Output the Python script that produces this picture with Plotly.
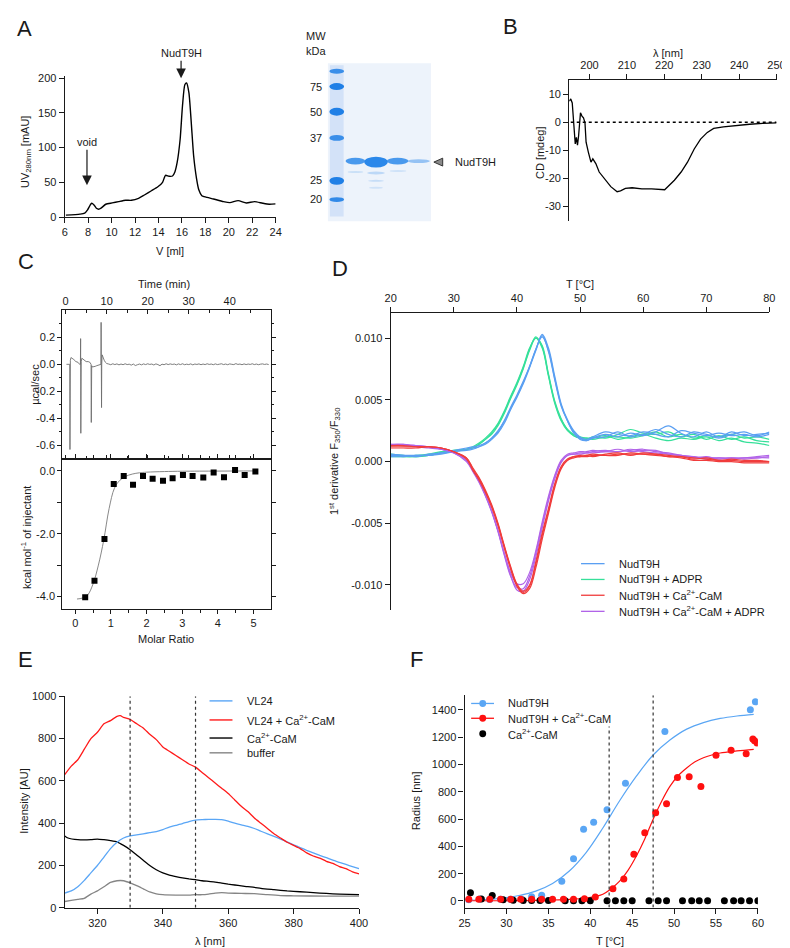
import plotly.graph_objects as go

W, H = 790, 948
FONT = "Liberation Sans, Arial, sans-serif"
INK = "#1a1a1a"

# ---------------- data ----------------
# A: size exclusion chromatogram
sec_v = [6.1, 7.3, 7.7, 7.95, 8.15, 8.3, 8.5, 8.7, 8.9, 9.1, 9.5, 10.05, 10.6, 11.2, 11.7, 12.3, 12.8,
         13.4, 13.95, 14.35, 14.6, 14.9, 15.2, 15.4, 15.6, 15.85, 16.05, 16.25, 16.4, 16.6, 16.8, 17.0,
         17.25, 17.45, 17.7, 18.15, 18.7, 19.55, 20.1, 20.8, 21.5, 22.2, 22.9, 23.45, 24.0]
sec_uv = [2.8, 4.3, 5.7, 10.4, 16.6, 19.9, 17.5, 12.8, 11.4, 12.8, 18.5, 20.4, 22.3, 24.2, 24.2, 27.0, 31.8,
          37.9, 43.6, 50.0, 60.2, 58.8, 59.2, 65.0, 79.0, 112.0, 160.0, 190.5, 193.0, 178.7, 136.0, 88.6,
          55.5, 38.9, 30.8, 28.4, 26.1, 22.3, 20.9, 23.7, 20.4, 22.3, 19.9, 18.5, 19.0]
sec_ticks = [6, 8, 10, 12, 14, 16, 18, 20, 22, 24]
uv_ticks = [0, 50, 100, 150, 200]
gel_mw = ["75", "50", "37", "25", "20"]

# B: CD spectrum
cd_wl = [194.6, 195.0, 195.4, 195.9, 196.2, 196.5, 196.8, 197.1, 197.6, 198.0, 198.4, 198.8, 199.1, 199.7,
         200.4, 200.9, 201.7, 202.6, 203.9, 205.7, 207.4, 208.3, 209.6, 211.4, 214.0, 216.6, 220.1, 221.0,
         222.7, 224.5, 226.2, 228.0, 229.7, 231.5, 233.2, 235.8, 239.3, 242.8, 246.3, 250.0]
cd_mdeg = [7.5, 8.3, 6.9, -4.8, -7.7, -5.4, -8.1, -4.8, 3.4, 2.2, 1.6, -0.1, -7.1, -10.6,
           -14.2, -13.0, -14.7, -17.7, -20.0, -22.9, -24.7, -24.4, -23.5, -23.3, -23.7, -23.7, -24.0, -22.9,
           -20.6, -17.7, -14.2, -9.5, -6.0, -3.6, -2.2, -1.6, -1.05, -0.7, -0.35, -0.2]
cd_zero_x = [195, 250]
cd_zero_y = [0, 0]
cd_xticks = [200, 210, 220, 230, 240, 250]
cd_yticks = [-30, -20, -10, 0, 10]

# C: ITC raw heat
itc_t = [0.2, 0.8, 1.0, 1.05, 1.1, 1.15, 1.3, 1.6, 2.0, 2.5, 3.0, 3.4, 3.6, 3.65, 3.7, 3.75, 3.8, 3.95,
         4.2, 4.6, 5.0, 5.5, 5.9, 6.2, 6.25, 6.3, 6.35, 6.5, 6.8, 7.2, 7.6, 8.0, 8.4, 8.6, 8.65, 8.7, 8.75,
         8.8, 8.9, 9.1, 9.4, 9.7,
         10.0, 10.5, 11.0, 11.5, 12.0, 12.5, 13.0, 13.5, 14.0, 14.5, 15.0, 15.5, 16.0, 16.5, 17.0, 17.5,
         18.0, 18.5, 19.0, 19.5, 20.0, 20.5, 21.0, 21.5, 22.0, 22.5, 23.0, 23.5, 24.0, 24.5, 25.0, 25.5,
         26.0, 26.5, 27.0, 27.5, 28.0, 28.5, 29.0, 29.5, 30.0, 30.5, 31.0, 31.5, 32.0, 32.5, 33.0, 33.5,
         34.0, 34.5, 35.0, 35.5, 36.0, 36.5, 37.0, 37.5, 38.0, 38.5, 39.0, 39.5, 40.0, 40.5, 41.0, 41.5,
         42.0, 42.5, 43.0, 43.5, 44.0, 44.5, 45.0, 45.5, 46.0, 46.5, 47.0, 47.5, 48.0, 48.5, 49.0, 49.5]
itc_q = [0.0, 0.0, 0.0, -0.63, 0.0, 0.03, 0.05, 0.045, 0.035, 0.02, 0.015, 0.0, 0.0, 0.19, -0.51, 0.0, 0.02,
         0.045, 0.04, 0.03, 0.02, 0.02, 0.015, 0.0, -0.43, 0.0, -0.01, -0.02, -0.02, -0.015, -0.01, -0.005,
         0.0, 0.0, 0.31, 0.0, -0.32, 0.0, 0.07, 0.05, 0.03, 0.015,
         0.006, 0.002, -0.003, 0.004, -0.002, 0.003, -0.004, 0.002, -0.003, 0.004, -0.002, 0.001, -0.006, 0.002,
         -0.009, -0.003, 0.002, -0.004, 0.003, -0.002, 0.004, -0.001, 0.002, -0.005, 0.003, -0.002, -0.010, 0.001,
         -0.003, 0.004, -0.002, 0.003, -0.001, 0.002, -0.004, 0.003, -0.002, 0.004, -0.003, 0.001, -0.002, 0.003,
         -0.004, 0.002, -0.001, 0.003, -0.003, 0.002, -0.002, 0.004, -0.001, 0.002, -0.003, 0.003, -0.002, 0.001,
         0.004, -0.002, 0.002, -0.003, 0.003, 0.0, -0.002, 0.005, -0.001, 0.002, -0.003, 0.003, -0.002, 0.002,
         -0.001, 0.004, -0.002, 0.002, -0.003, 0.001, 0.003, -0.001, 0.002, -0.002, 0.001, 0.002]
# C: integrated heats
itc_ratio = [0.28, 0.54, 0.82, 1.08, 1.36, 1.62, 1.90, 2.17, 2.46, 2.73, 3.02, 3.29, 3.59, 3.88, 4.17,
             4.48, 4.75, 5.05]
itc_kcal = [-4.02, -3.50, -2.17, -0.42, -0.16, -0.44, -0.16, -0.25, -0.31, -0.23, -0.13, -0.16, -0.21,
            -0.05, -0.20, 0.03, -0.13, -0.02]
itc_fit_x = [0.05, 0.2, 0.35, 0.5, 0.65, 0.8, 0.95, 1.1, 1.25, 1.4, 1.6, 1.8, 2.0, 2.5, 3.0, 4.0, 5.05]
itc_fit_y = [-4.08, -4.05, -3.95, -3.6, -3.0, -2.2, -1.2, -0.55, -0.3, -0.18, -0.1, -0.06, -0.04, -0.02,
             -0.01, -0.005, 0.0]

# D: nanoDSF first derivative (values in units of 1e-4)
dsf_T = [20, 22, 24, 26, 28, 30, 32, 33, 34, 35, 36, 37, 38, 39, 40, 41, 42, 43, 44, 45, 46, 47, 48, 49, 50,
         51, 52, 54, 56, 58, 60, 62, 64, 66, 68, 70, 72, 74, 76, 78, 80]
dsf_nudt9h = [
    [5, 5, 5, 5, 6, 8, 9, 10, 12, 15, 19, 24, 33, 44, 54, 65, 77, 91, 102, 89, 66, 45, 33, 24, 19, 17, 19, 22,
     20, 23, 21, 24, 29, 23, 20, 24, 20, 24, 21, 22, 23],
    [6, 5, 4, 6, 7, 8, 10, 11, 12, 14, 18, 23, 31, 42, 52, 63, 76, 90, 103, 92, 69, 47, 34, 25, 20, 18, 20, 24,
     22, 21, 24, 22, 20, 25, 23, 21, 23, 21, 22, 20, 22],
    [4, 4, 5, 5, 7, 9, 11, 12, 13, 15, 19, 25, 33, 43, 53, 64, 77, 91, 101, 90, 67, 46, 33, 23, 18, 17, 19, 20,
     24, 20, 22, 26, 22, 20, 24, 22, 19, 22, 24, 21, 24]]
dsf_adpr = [
    [5, 4, 4, 5, 7, 9, 10, 11, 14, 18, 23, 30, 40, 52, 63, 76, 91, 101, 93, 70, 48, 34, 26, 21, 19, 19, 19, 21,
     18, 20, 22, 19, 17, 19, 18, 20, 17, 19, 16, 15, 13],
    [6, 5, 4, 5, 7, 8, 10, 12, 15, 19, 24, 31, 41, 53, 64, 77, 92, 100, 92, 69, 47, 33, 25, 21, 19, 18, 20, 19,
     22, 26, 23, 22, 24, 20, 22, 18, 21, 18, 20, 17, 16],
    [4, 4, 5, 6, 8, 9, 10, 11, 14, 18, 22, 29, 39, 51, 62, 75, 90, 100, 94, 71, 49, 35, 26, 22, 20, 19, 18, 20,
     20, 19, 21, 24, 20, 22, 19, 21, 20, 22, 19, 20, 18]]
dsf_cam = [
    [12, 12, 12, 12, 11, 8, 3, -6, -14, -24, -36, -51, -69, -86, -100, -106, -101, -83, -60, -40, -19, -5, 1, 4,
     4, 4, 5, 5, 6, 6, 6, 6, 5, 4, 3, 2, 1, 1, 0, 0, 0],
    [11, 11, 11, 12, 11, 8, 2, -7, -15, -25, -37, -52, -70, -87, -101, -107, -103, -86, -63, -42, -21, -6, 1, 3,
     4, 5, 6, 5, 5, 7, 6, 5, 4, 3, 1, 1, 0, 0, -1, -1, -1],
    [13, 13, 12, 12, 11, 8, 3, -5, -13, -23, -35, -50, -68, -85, -99, -105, -100, -81, -58, -38, -18, -4, 2, 4,
     5, 5, 4, 6, 7, 5, 7, 6, 4, 4, 2, 3, 1, 2, 1, 1, 0]]
dsf_cam_adpr = [
    [14, 13, 13, 12, 10, 7, 0, -8, -17, -28, -41, -57, -76, -93, -102, -103, -93, -74, -51, -30, -12, 0, 5, 6,
     7, 7, 8, 9, 8, 9, 10, 8, 7, 5, 4, 3, 3, 3, 3, 4, 5],
    [13, 14, 13, 12, 10, 7, 1, -7, -16, -27, -40, -56, -75, -92, -104, -105, -96, -77, -54, -32, -14, -1, 5, 6,
     6, 7, 7, 8, 10, 8, 9, 9, 6, 5, 4, 2, 3, 2, 3, 3, 4],
    [14, 14, 12, 11, 10, 8, 1, -7, -16, -27, -40, -56, -74, -90, -99, -99, -90, -72, -49, -28, -11, 1, 6, 7,
     8, 8, 9, 8, 8, 10, 8, 7, 6, 5, 3, 4, 2, 3, 2, 3, 3]]
dsf_unit = 1e-4
dsf_xticks = [20, 30, 40, 50, 60, 70, 80]
dsf_yticks = [-0.010, -0.005, 0.0, 0.005, 0.010]
dsf_ylabels = ["-0.010", "-0.005", "0.000", "0.005", "0.010"]

# E: tryptophan fluorescence
fl_wl_red = [310, 312, 314, 316, 318, 320, 322, 324, 326, 327, 328, 330, 332, 334, 336, 338, 340, 342, 344, 346,
             348, 350, 352, 354, 356, 358, 360, 362, 364, 366, 368, 370, 372, 374, 376, 378, 380, 382, 384, 386,
             388, 390, 392, 394, 396, 398, 400]
fl_vl24_cam = [630, 670, 700, 750, 800, 830, 870, 885, 905, 908, 900, 890, 870, 850, 820, 795, 760, 740, 720, 700,
               680, 665, 640, 615, 590, 565, 540, 510, 480, 455, 425, 400, 375, 350, 330, 310, 295, 280, 260, 245,
               235, 220, 210, 195, 185, 170, 160]
fl_wl_blue = [310, 312, 314, 316, 318, 320, 322, 324, 326, 328, 330, 332, 334, 336, 338, 340, 342, 344, 346, 348,
              350, 352, 354, 356, 358, 360, 362, 364, 366, 368, 370, 372, 374, 376, 378, 380, 382, 384, 386, 388,
              390, 392, 394, 396, 398, 400]
fl_vl24 = [70, 80, 100, 130, 165, 200, 240, 280, 310, 330, 340, 345, 350, 355, 360, 370, 382, 390, 398, 408,
           415, 417, 418, 418, 417, 410, 400, 392, 385, 375, 362, 350, 338, 325, 312, 298, 285, 272, 260, 248,
           237, 225, 215, 205, 195, 185]
fl_wl_cam = [310, 311, 314, 318, 320, 322, 324, 326, 328, 330, 332, 334, 336, 338, 340, 342, 344, 346, 348, 350,
             352, 354, 356, 358, 360, 362, 364, 366, 368, 370, 374, 378, 382, 386, 390, 394, 400]
fl_cam = [340, 330, 322, 322, 325, 322, 318, 312, 295, 275, 250, 225, 200, 180, 165, 155, 148, 142, 137, 133,
          128, 125, 122, 117, 112, 108, 104, 100, 97, 92, 86, 80, 76, 72, 68, 65, 62]
fl_wl_buf = [310, 312, 314, 316, 318, 320, 322, 324, 326, 328, 330, 332, 334, 336, 338, 340, 344, 348, 350, 352,
             354, 356, 358, 360, 364, 368, 372, 376, 380, 390, 400]
fl_buffer = [30, 35, 40, 45, 65, 80, 100, 120, 128, 128, 118, 105, 90, 75, 66, 62, 60, 60, 62, 62,
             65, 70, 72, 70, 68, 67, 62, 58, 57, 55, 55]
fl_marks = [330, 350]
fl_xticks = [320, 340, 360, 380, 400]
fl_yticks = [0, 200, 400, 600, 800, 1000]

# F: DLS radius vs temperature
dls_nudt9h_T = [25.5, 26.8, 28.0, 29.3, 30.5, 31.8, 33.0, 34.2, 36.6, 38.0, 39.2, 40.4, 42.0, 44.2, 48.9,
                59.1, 59.7]
dls_nudt9h_R = [10, 14, 11, 13, 12, 15, 31, 43, 145, 309, 526, 577, 669, 864, 1243, 1402, 1460]
dls_cam_T = [25.5, 26.7, 28.0, 29.3, 30.5, 31.7, 33.0, 34.2, 35.5, 36.8, 38.0, 39.3, 40.6, 42.7, 44.0, 45.2,
             46.5, 47.8, 49.1, 50.4, 51.8, 53.2, 55.0, 56.8, 58.6, 59.4, 59.6, 59.9]
dls_cam_R = [12, 12, 12, 12, 12, 12, 12, 12, 12, 12, 12, 17, 29, 89, 162, 343, 500, 647, 712, 905, 910, 840,
             1069, 1105, 1079, 1188, 1175, 1159]
dls_camonly_T = [25.7, 27.0, 28.3, 29.6, 30.8, 32.0, 33.0, 34.0, 35.0, 37.0, 38.0, 39.0, 40.0, 42.0, 43.0,
                 44.0, 45.0, 47.0, 48.1, 49.1, 51.0, 52.1, 53.0, 54.0, 56.0, 57.1, 58.0, 59.0, 60.0]
dls_camonly_R = [60, 15, 40, 10, 5, 3, 3, 3, 3, 2, 2, 2, 2, 2, 2, 2, 2, 2, 2, 2, 2, 2, 2, 2, 2, 2, 2, 2, 2]
dls_fit1_T = [25.5, 27.5, 29.5, 31.5, 33.5, 35.5, 37.5, 39.5, 41.5, 43.5, 45.5, 47.5, 49.5, 51.5, 53.5, 55.5,
              57.5, 59.5]
dls_fit1_R = [5, 11, 21, 40, 72, 128, 220, 355, 535, 735, 915, 1070, 1180, 1260, 1308, 1338, 1356, 1368]
dls_fit2_T = [25.5, 27.5, 29.5, 31.5, 33.5, 35.5, 37.5, 39.5, 40.5, 41.5, 42.5, 43.5, 44.5, 45.5, 46.5, 47.5,
              48.5, 49.5, 50.5, 51.5, 52.5, 53.5, 54.5, 55.5, 57.5, 59.5]
dls_fit2_R = [2, 2, 2, 3, 4, 7, 12, 22, 32, 50, 90, 145, 225, 330, 455, 600, 730, 840, 920, 975, 1020, 1050,
              1070, 1085, 1100, 1112]
dls_marks = [42.25, 47.5]
dls_mark_top = [1280, 1508]
dls_xticks = [25, 30, 35, 40, 45, 50, 55, 60]
dls_yticks = [0, 200, 400, 600, 800, 1000, 1200, 1400]

# ---------------- colours ----------------
C_BLUE = "#5a9ff2"
C_GREEN = "#36e09a"
C_RED = "#f03c3c"
C_PURPLE = "#b163e8"
E_BLUE = "#5aa6f6"
E_RED = "#ff1a1a"
E_GRAY = "#858585"
F_BLUE = "#5aa6f4"
F_RED = "#ff1010"


def X(px):
    return px / W


def Y(py):
    return 1 - py / H


def dx(a, b):
    return [X(a), X(b)]


def dy(top, bottom):
    return [Y(bottom), Y(top)]


base = dict(showline=True, linecolor=INK, linewidth=1.2, ticks="outside", ticklen=5, tickwidth=1.2,
            tickcolor=INK, showgrid=False, zeroline=False, fixedrange=True,
            tickfont=dict(family=FONT, size=11, color=INK))


def axis(**kw):
    d = dict(base)
    d.update(kw)
    return d


fig = go.Figure()

# A
fig.add_trace(go.Scatter(x=sec_v, y=sec_uv, mode="lines", xaxis="x", yaxis="y",
                         line=dict(color="black", width=1.4, shape="spline", smoothing=0.6)))
# B
fig.add_trace(go.Scatter(x=cd_zero_x, y=cd_zero_y, mode="lines", xaxis="x2", yaxis="y2",
                         line=dict(color="black", width=1.6, dash="dot")))
fig.add_trace(go.Scatter(x=cd_wl, y=cd_mdeg, mode="lines", xaxis="x2", yaxis="y2",
                         line=dict(color="black", width=1.3)))
# C
fig.add_trace(go.Scatter(x=itc_t, y=itc_q, mode="lines", xaxis="x3", yaxis="y3",
                         line=dict(color="#6e6e6e", width=0.9)))
fig.add_trace(go.Scatter(x=itc_fit_x, y=itc_fit_y, mode="lines", xaxis="x4", yaxis="y4",
                         line=dict(color="#7a7a7a", width=0.9, shape="spline")))
fig.add_trace(go.Scatter(x=itc_ratio, y=itc_kcal, mode="markers", xaxis="x4", yaxis="y4",
                         marker=dict(symbol="square", size=6, color="black")))
# D
for group, col in [(dsf_adpr, C_GREEN), (dsf_nudt9h, C_BLUE), (dsf_cam_adpr, C_PURPLE), (dsf_cam, C_RED)]:
    for rep in group:
        fig.add_trace(go.Scatter(x=dsf_T, y=[v * dsf_unit for v in rep], mode="lines", xaxis="x5", yaxis="y5",
                                 line=dict(color=col, width=1.2, shape="spline", smoothing=1.0)))
# E
for xs, ys, col in [(fl_wl_buf, fl_buffer, E_GRAY), (fl_wl_cam, fl_cam, "black"),
                    (fl_wl_blue, fl_vl24, E_BLUE), (fl_wl_red, fl_vl24_cam, E_RED)]:
    fig.add_trace(go.Scatter(x=xs, y=ys, mode="lines", xaxis="x6", yaxis="y6",
                             line=dict(color=col, width=1.3, shape="spline", smoothing=0.5)))
# F
fig.add_trace(go.Scatter(x=dls_fit1_T, y=dls_fit1_R, mode="lines", xaxis="x7", yaxis="y7",
                         line=dict(color=F_BLUE, width=1.2, shape="spline")))
fig.add_trace(go.Scatter(x=dls_fit2_T, y=dls_fit2_R, mode="lines", xaxis="x7", yaxis="y7",
                         line=dict(color=F_RED, width=1.2, shape="spline")))
fig.add_trace(go.Scatter(x=dls_nudt9h_T, y=dls_nudt9h_R, mode="markers", xaxis="x7", yaxis="y7",
                         marker=dict(size=7, color=F_BLUE)))
fig.add_trace(go.Scatter(x=dls_camonly_T, y=dls_camonly_R, mode="markers", xaxis="x7", yaxis="y7",
                         marker=dict(size=7, color="black")))
fig.add_trace(go.Scatter(x=dls_cam_T, y=dls_cam_R, mode="markers", xaxis="x7", yaxis="y7",
                         marker=dict(size=7, color=F_RED)))

fig.update_traces(showlegend=False, hoverinfo="skip")

shapes = []
annotations = []


def txt(x, y, text, size=11, xanchor="center", yanchor="middle", angle=0, **kw):
    annotations.append(dict(x=X(x), y=Y(y), xref="paper", yref="paper", text=text, showarrow=False,
                            xanchor=xanchor, yanchor=yanchor, textangle=angle,
                            font=dict(family=FONT, size=size, color=INK), **kw))


# panel letters
for letter, px_, py_ in [("A", 11, 14.5), ("B", 506, 12.5), ("C", 12, 251), ("D", 332, 258), ("E", 12, 654),
                         ("F", 410, 654)]:
    txt(px_, py_, letter, size=22)

# ----- A titles and arrows
txt(159, 240, "V [ml]")
txt(12, 140, "UV<sub>280nm</sub> [mAU]", angle=-90)
annotations.append(dict(x=7.9, y=46, xref="x", yref="y", ax=0, ay=-43, text="void", showarrow=True,
                        arrowhead=2, arrowsize=1.6, arrowwidth=1.2, arrowcolor=INK,
                        font=dict(family=FONT, size=11, color=INK)))
annotations.append(dict(x=15.93, y=200, xref="x", yref="y", ax=0, ay=-25, text="NudT9H", showarrow=True,
                        arrowhead=2, arrowsize=1.6, arrowwidth=1.2, arrowcolor=INK,
                        font=dict(family=FONT, size=11, color=INK)))

# ----- A gel (drawn as shapes)
shapes.append(dict(type="rect", xref="paper", yref="paper", x0=X(320), x1=X(425), y0=Y(210), y1=Y(50),
                   fillcolor="#edf3fb", line=dict(width=0), layer="below"))
shapes.append(dict(type="rect", xref="paper", yref="paper", x0=X(322), x1=X(336), y0=Y(205), y1=Y(52),
                   fillcolor="rgba(120,170,235,0.22)", line=dict(width=0)))
for yc, h, a in [(58, 5, 0.85), (73.5, 7, 1.0), (99, 8, 1.0), (125.5, 6, 0.85), (169, 8, 1.0), (188, 5, 0.9)]:
    shapes.append(dict(type="circle", xref="paper", yref="paper", x0=X(321.5), x1=X(336.5),
                       y0=Y(yc + h / 2), y1=Y(yc - h / 2), fillcolor="#1f7fe6", opacity=a, line=dict(width=0)))
for x0, x1, yc, h, a in [(338, 358, 149, 7, 0.85), (357, 381, 150, 11, 1.0), (380, 402, 149, 7, 0.85),
                         (401, 424, 149, 4, 0.45), (340, 356, 160, 2, 0.18), (360, 378, 161, 3, 0.25),
                         (361, 377, 169, 2, 0.2), (362, 376, 176, 2, 0.15), (383, 400, 159, 2, 0.15)]:
    shapes.append(dict(type="circle", xref="paper", yref="paper", x0=X(x0), x1=X(x1),
                       y0=Y(yc + h / 2), y1=Y(yc - h / 2), fillcolor="#2b88ea", opacity=a, line=dict(width=0)))
shapes.append(dict(type="path", xref="paper", yref="paper",
                   path=f"M {X(428)},{Y(150)} L {X(437)},{Y(146)} L {X(437)},{Y(154)} Z",
                   fillcolor="#8a8a8a", line=dict(color="#333", width=1)))
txt(447, 150, "NudT9H", xanchor="left")
txt(308, 22, "MW")
txt(308, 37, "kDa")
for lab, yy in zip(gel_mw, [74, 99, 126, 168, 187]):
    txt(316, yy, lab, xanchor="right")

# ----- B titles
txt(667, 40, "λ [nm]")
txt(536, 140, "CD [mdeg]", angle=-90)

# ----- C titles
txt(153, 273, "Time (min)")
txt(22, 375, "µcal/sec", angle=-90)
txt(13, 530, "kcal mol<sup>-1</sup> of injectant", angle=-90)
txt(155, 633, "Molar Ratio")

# ----- D titles and legend
txt(577, 273, "T [°C]")
txt(327, 453, "1<sup>st</sup> derivative F<sub>350</sub>/F<sub>330</sub>", angle=-90)
for lab, col, yy in [("NudT9H", C_BLUE, 556.7), ("NudT9H + ADPR", C_GREEN, 572.7),
                     ("NudT9H + Ca<sup>2+</sup>-CaM", C_RED, 588.7),
                     ("NudT9H + Ca<sup>2+</sup>-CaM + ADPR", C_PURPLE, 605)]:
    shapes.append(dict(type="line", xref="paper", yref="paper", x0=X(578), x1=X(602), y0=Y(yy), y1=Y(yy),
                       line=dict(color=col, width=1.3)))
    txt(615, yy, lab, xanchor="left")

# ----- E titles, legend, markers
txt(200, 938.5, "λ [nm]")
txt(10, 797, "Intensity [AU]", angle=-90)
for lab, col, yy in [("VL24", E_BLUE, 695.7), ("VL24 + Ca<sup>2+</sup>-CaM", E_RED, 715),
                     ("Ca<sup>2+</sup>-CaM", "black", 733.3), ("buffer", E_GRAY, 748.3)]:
    shapes.append(dict(type="line", xref="paper", yref="paper", x0=X(199.3), x1=X(222.7), y0=Y(yy), y1=Y(yy),
                       line=dict(color=col, width=1.4)))
    txt(235, yy, lab, xanchor="left")
for m in fl_marks:
    shapes.append(dict(type="line", xref="x6", yref="y6", x0=m, x1=m, y0=fl_yticks[0], y1=fl_yticks[-1],
                       line=dict(color="#333", width=1.2, dash="3px,3px")))

# ----- F titles, legend, markers
txt(608, 938.5, "T [°C]")
txt(410, 797, "Radius [nm]", angle=-90)
for lab, col, yy, line in [("NudT9H", F_BLUE, 698.3, True), ("NudT9H + Ca<sup>2+</sup>-CaM", F_RED, 713.3, True),
                           ("Ca<sup>2+</sup>-CaM", "black", 729, False)]:
    if line:
        shapes.append(dict(type="line", xref="paper", yref="paper", x0=X(466), x1=X(489.3), y0=Y(yy), y1=Y(yy),
                           line=dict(color=col, width=1.3)))
    shapes.append(dict(type="circle", xref="paper", yref="paper", x0=X(474.3), x1=X(481.3),
                       y0=Y(yy + 3.5), y1=Y(yy - 3.5), fillcolor=col, line=dict(width=0)))
    txt(501.7, yy, lab, xanchor="left")
for m, top in zip(dls_marks, dls_mark_top):
    shapes.append(dict(type="line", xref="x7", yref="y7", x0=m, x1=m, y0=-48, y1=top,
                       line=dict(color="#333", width=1.2, dash="3px,3px")))

fig.update_layout(
    width=W, height=H, autosize=False,
    margin=dict(l=0, r=0, t=0, b=0),
    paper_bgcolor="white", plot_bgcolor="white",
    font=dict(family=FONT, size=11, color=INK),
    showlegend=False,
    # A
    xaxis=axis(domain=dx(51.7, 266.7), range=[6, 24], anchor="y", tickvals=sec_ticks),
    yaxis=axis(domain=dy(63.3, 205.7), range=[0, 202.4], anchor="x", tickvals=uv_ticks),
    # B
    xaxis2=axis(domain=dx(566, 777.3), range=[194.6, 250], anchor="y2", side="top", tickvals=cd_xticks),
    yaxis2=axis(domain=dy(66.7, 209.3), range=[-35, 15.1], anchor="x2", tickvals=cd_yticks,
                ticktext=[str(v) for v in cd_yticks]),
    # C upper
    xaxis3=axis(domain=dx(49.3, 261.7), range=[-0.8, 50], anchor="y3", side="top", ticks="inside",
                mirror="allticks", ticklen=4, tickvals=[0, 10, 20, 30, 40],
                minor=dict(tickvals=[5, 15, 25, 35, 45], ticks="inside", ticklen=3, tickcolor=INK)),
    yaxis3=axis(domain=dy(300, 450.7), range=[-0.70, 0.40], anchor="x3", mirror="allticks", ticklen=4,
                tickvals=[-0.6, -0.4, -0.2, 0.0, 0.2], ticktext=["-0.6", "-0.4", "-0.2", "0.0", "0.2"],
                minor=dict(tickvals=[-0.5, -0.3, -0.1, 0.1, 0.3], ticks="outside", ticklen=2, tickcolor=INK)),
    # C lower
    xaxis4=axis(domain=dx(49.3, 261.7), range=[-0.36, 5.48], anchor="y4", mirror="allticks", ticklen=4,
                tickvals=[0, 1, 2, 3, 4, 5],
                minor=dict(tickvals=[-0.5, 0.5, 1.5, 2.5, 3.5, 4.5], ticks="outside", ticklen=3, tickcolor=INK)),
    yaxis4=axis(domain=dy(450.7, 602.7), range=[-4.40, 0.38], anchor="x4", mirror="allticks", ticklen=4,
                tickvals=[-4, -2, 0], ticktext=["-4.0", "-2.0", "0.0"],
                minor=dict(tickvals=[-3, -1], ticks="outside", ticklen=4, tickcolor=INK)),
    # D
    xaxis5=axis(domain=dx(384, 770), range=[20, 80], anchor="y5", side="top", tickvals=dsf_xticks),
    yaxis5=axis(domain=dy(302.7, 603.3), range=[-0.012, 0.01205], anchor="x5", tickvals=dsf_yticks,
                ticktext=dsf_ylabels),
    # E
    xaxis6=axis(domain=dx(51.7, 351.7), range=[310, 400], anchor="y6", tickvals=fl_xticks),
    yaxis6=axis(domain=dy(691, 905.3), range=[0, 1000], anchor="x6", tickvals=fl_yticks),
    # F
    xaxis7=axis(domain=dx(459.3, 758.3), range=[25, 60], anchor="y7", tickvals=dls_xticks),
    yaxis7=axis(domain=dy(690, 905), range=[-48, 1508], anchor="x7", tickvals=dls_yticks),
    shapes=shapes,
    annotations=annotations,
)

fig.write_html("out.html", config={"displayModeBar": False})
